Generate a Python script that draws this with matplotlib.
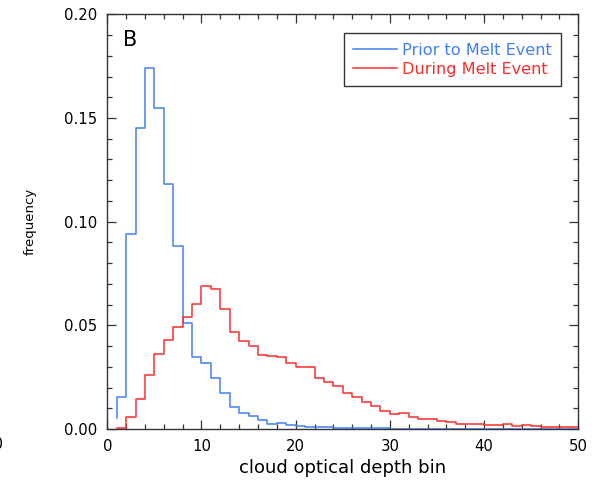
import numpy as np
import matplotlib
matplotlib.use('Agg')
import matplotlib.pyplot as plt
from matplotlib.ticker import MultipleLocator, FormatStrFormatter

plt.rcParams['font.family'] = ['DejaVu Sans']

# histogram bins of cloud optical depth (edges 1..50)
bin_edges = np.arange(1, 51)

# frequency before the melt event, one value per bin
prior_start = 0.0052
prior = [0.0153, 0.0940, 0.1453, 0.1742, 0.1549, 0.1183, 0.0884, 0.0510,
         0.0347, 0.0317, 0.0247, 0.0175, 0.0108, 0.0079, 0.0063, 0.0043,
         0.0024, 0.0030, 0.0019, 0.0013, 0.0011, 0.0011, 0.0010, 0.0004,
         0.0003, 0.0003, 0.0003, 0.0003, 0.0003, 0.0002, 0.0002, 0.0002,
         0.0002, 0.0002, 0.0002, 0.0002, 0.0002, 0.0002, 0.0002, 0.0001,
         0.0001, 0.0001, 0.0001, 0.0001, 0.0001, 0.0001, 0.0001, 0.0001,
         0.0001]

# frequency during the melt event
during_start = 0.0003
during = [0.0003, 0.0056, 0.0146, 0.0259, 0.0362, 0.0429, 0.0490, 0.0541,
          0.0603, 0.0689, 0.0673, 0.0578, 0.0469, 0.0424, 0.0400, 0.0358,
          0.0354, 0.0346, 0.0320, 0.0299, 0.0300, 0.0244, 0.0228, 0.0207,
          0.0175, 0.0152, 0.0132, 0.0111, 0.0088, 0.0073, 0.0076, 0.0056,
          0.0047, 0.0047, 0.0040, 0.0035, 0.0024, 0.0024, 0.0024, 0.0018,
          0.0017, 0.0023, 0.0016, 0.0019, 0.0014, 0.0008, 0.0008, 0.0008,
          0.0008]

labels = ['Prior to Melt Event', 'During Melt Event']
colors = ['#3f7ff5', '#ff2b2b']

fig = plt.figure(figsize=(5.98, 4.83), dpi=100)
ax = fig.add_axes([0.1794, 0.1118, 0.7876, 0.8586])

for start, vals, lab, col in zip([prior_start, during_start], [prior, during], labels, colors):
    x = np.r_[bin_edges[0], bin_edges]
    y = np.r_[start, vals, vals[-1]]
    ax.step(x, y, where='post', color=col, lw=1.1, label=lab)

ax.set_xlim(0, 50)
ax.set_ylim(0, 0.20)
ax.xaxis.set_major_locator(MultipleLocator(10))
ax.xaxis.set_minor_locator(MultipleLocator(2))
ax.yaxis.set_major_locator(MultipleLocator(0.05))
ax.yaxis.set_minor_locator(MultipleLocator(0.01))
ax.yaxis.set_major_formatter(FormatStrFormatter('%.2f'))
ax.tick_params(which='both', direction='in', top=True, right=True,
               labelsize=10.7, color='#333333', width=0.9)
ax.tick_params(which='major', length=6.5, pad=7)
ax.tick_params(which='minor', length=3.6)
for s in ax.spines.values():
    s.set_color('#333333')
    s.set_linewidth(1.0)

ax.set_xlabel('cloud optical depth bin', fontsize=13, labelpad=4)
ax.set_ylabel('frequency', fontsize=9.5, labelpad=20)

ax.text(0.034, 0.962, 'B', transform=ax.transAxes, fontsize=15, va='top', ha='left')

leg = ax.legend(loc='upper right', bbox_to_anchor=(0.9633, 0.955), borderaxespad=0,
                fontsize=11.6, handlelength=2.7, handletextpad=0.3,
                labelspacing=0.25, borderpad=0.6, fancybox=False, framealpha=1)
leg.get_frame().set_edgecolor('#333333')
leg.get_frame().set_linewidth(1.0)
for t, c in zip(leg.get_texts(), colors):
    t.set_color(c)

# clipped label from the neighbouring panel
fig.text(0.0067, 0.0787, '50', fontsize=10.7, ha='right', va='center')

fig.savefig('out.png', dpi=100)
